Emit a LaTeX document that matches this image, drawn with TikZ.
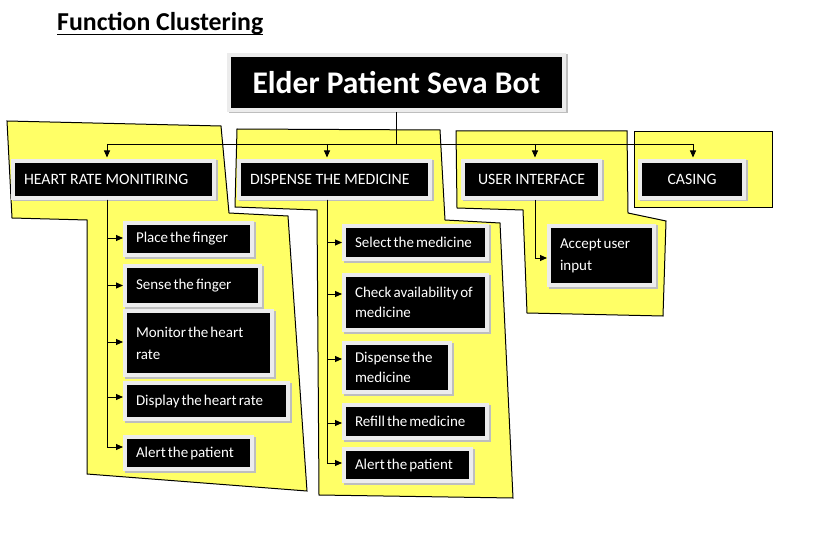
\documentclass[tikz,border=0pt]{standalone}
\usepackage{fontspec}
\setmainfont{Carlito}[WordSpace=0.6]
\newfontfamily\labelfont{Carlito}
\usetikzlibrary{arrows.meta}
\definecolor{zonefill}{RGB}{255,255,102}
\definecolor{boxrim}{RGB}{236,236,236}
\definecolor{boxshade}{RGB}{190,190,190}
\begin{document}
\hyphenpenalty=10000
\exhyphenpenalty=10000
\begin{tikzpicture}[x=1pt,y=-1pt,
  zone/.style={fill=zonefill, draw=black, line width=1pt},
  blk/.style={rectangle, fill=black, draw=boxrim, line width=4pt, text=white,
    inner xsep=11pt, inner ysep=3pt, align=flush left,
    font=\fontsize{15}{21}\selectfont,
    preaction={draw=boxshade, line width=4pt, transform canvas={shift={(1.5pt,-1.5pt)}}}},
  head/.style={blk, font=\labelfont\fontsize{15.8}{19}\selectfont},
  conn/.style={draw=black, line width=0.9pt},
  arr/.style={conn, -{Triangle[length=7pt,width=6pt]}}
]
\fill[white] (0,0) rectangle (829,545);
\useasboundingbox (0,0) rectangle (829,545);

% title
\node[anchor=base west, inner sep=0pt, font=\labelfont\fontsize{25.8}{30}\selectfont\bfseries] (title) at (57,31) {Function Clustering};
\draw[line width=1.8pt] ([yshift=-3.5pt]title.base west) -- ([yshift=-3.5pt]title.base east);

% yellow function groups
\path[zone] (7,121) -- (221,126) -- (229,213) -- (288,216) -- (307,491) -- (87,474) -- (87,220) -- (12,218) -- cycle;
\path[zone] (237,129) -- (440,130) -- (445,220) -- (500,223) -- (513,498) -- (319,495) -- (317,210) -- (235,207) -- cycle;
\path[zone] (456,131) -- (627,131) -- (628,213) -- (666,221) -- (663,316) -- (527,313) -- (523,210) -- (457,208) -- cycle;
\path[zone] (634,132) -- (772,132) -- (772,208) -- (634,208) -- cycle;

% root
\node[blk, align=flush center, text width=313pt, minimum height=55pt,
  font=\labelfont\fontsize{31.5}{36}\selectfont\bfseries] (main) at (396.5,82.5) {Elder Patient Seva Bot};

% function headers
\node[head, text width=179pt, minimum height=37pt] (hr) at (113.5,179.5) {HEART RATE MONITIRING};
\node[head, text width=169pt, minimum height=37pt] (disp) at (334.5,179.5) {DISPENSE THE MEDICINE};
\node[head, align=flush center, text width=115pt, minimum height=37pt] (ui) at (531.5,179.5) {USER INTERFACE};
\node[head, align=flush center, text width=82pt, minimum height=37pt] (cas) at (692,179.5) {CASING};

% heart rate steps
\node[blk, text width=105pt, minimum height=32pt] (h1) at (188.5,239) {Place the finger};
\node[blk, text width=113pt, minimum height=39pt] (h2) at (192.5,285.5) {Sense the finger};
\node[blk, text width=125pt, minimum height=64pt, font=\fontsize{15}{22}\selectfont] (h3) at (198.5,343) {Monitor the heart\\rate};
\node[blk, text width=141pt, minimum height=36pt] (h4) at (206.5,401) {Display the heart rate};
\node[blk, text width=105pt, minimum height=32pt] (h5) at (188.5,453) {Alert the patient};

% dispensing steps
\node[blk, text width=121pt, minimum height=33pt] (d1) at (415.5,242.5) {Select the medicine};
\node[blk, text width=121pt, minimum height=55pt, font=\fontsize{15}{20}\selectfont] (d2) at (415.5,302.5) {Check availability of\\medicine};
\node[blk, text width=84pt, minimum height=49pt, font=\fontsize{15}{20}\selectfont] (d3) at (397,367.5) {Dispense the\\medicine};
\node[blk, text width=121pt, minimum height=33pt] (d4) at (415.5,421.5) {Refill the medicine};
\node[blk, text width=105pt, minimum height=32pt] (d5) at (407.5,465) {Alert the patient};

% user interface step
\node[blk, text width=83pt, minimum height=59pt, font=\fontsize{15}{22}\selectfont] (u1) at (601.5,255.5) {Accept user\\input};

% entry points on the headers
\coordinate (hrin) at ([xshift=-6.5pt]hr.north);
\coordinate (dispin) at ([xshift=-7.5pt]disp.north);
\coordinate (uiin) at ([xshift=3.5pt]ui.north);
\coordinate (casin) at ([xshift=1pt]cas.north);
\coordinate (bus) at ([yshift=-32pt]main.south);

% root to headers
\draw[conn] (main.south) -- (main.south |- bus);
\draw[conn] (hrin |- bus) -- (casin |- bus);
\draw[arr, shorten >=1.5pt] (hrin |- bus) -- (hrin);
\draw[arr, shorten >=1.5pt] (dispin |- bus) -- (dispin);
\draw[arr, shorten >=1.5pt] (uiin |- bus) -- (uiin);
\draw[arr, shorten >=1.5pt] (casin |- bus) -- (casin);

% heart rate trunk
\coordinate (hrout) at ([xshift=-6.5pt]hr.south);
\draw[arr] (hrout) |- ([yshift=1pt]h1.west);
\draw[arr] (hrout) |- (h2.west);
\draw[arr] (hrout) |- ([yshift=1pt]h3.west);
\draw[arr] (hrout) |- ([yshift=4pt]h4.west);
\draw[arr] (hrout) |- ([yshift=6pt]h5.west);

% dispensing trunk
\coordinate (dispout) at ([xshift=-7.5pt]disp.south);
\draw[arr] (dispout) |- (d1.west);
\draw[arr] (dispout) |- ([yshift=8.5pt]d2.west);
\draw[arr] (dispout) |- ([yshift=8.5pt]d3.west);
\draw[arr] (dispout) |- ([yshift=-1.5pt]d4.west);
\draw[arr] (dispout) |- ([yshift=2pt]d5.west);

% user interface trunk
\draw[arr] ([xshift=3.5pt]ui.south) |- ([yshift=-2.5pt]u1.west);
\end{tikzpicture}
\end{document}
